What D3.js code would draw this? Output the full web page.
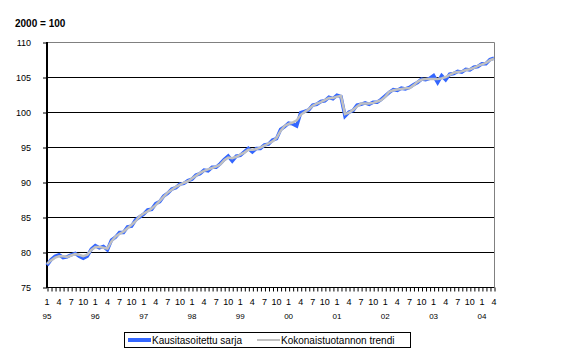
<!DOCTYPE html>
<html>
<head>
<meta charset="utf-8">
<script src="https://cdn.jsdelivr.net/npm/d3@7"></script>
<style>
  body { margin: 0; background: #fff; }
  svg { display: block; font-family: "Liberation Sans", Arial, sans-serif; }
</style>
</head>
<body>
<svg width="562" height="361"></svg>
<script>
const width = 562;
const height = 361;

// category axis: Jan 1995 .. Apr 2004, one point per month
const years = ["95", "96", "97", "98", "99", "00", "01", "02", "03", "04"];
const monthLabels = ["1", "4", "7", "10"];
const yTicks = [75, 80, 85, 90, 95, 100, 105, 110];

// seasonally adjusted series (index 2000 = 100)
const sarja = [
  78.1, 78.9, 79.4, 79.6, 79.2, 79.3, 79.6, 79.8, 79.4, 79.1, 79.4, 80.4,
  80.9, 80.6, 80.8, 80.3, 81.7, 82.1, 82.8, 82.8, 83.6, 83.7, 84.6, 85.0,
  85.4, 86.0, 86.1, 86.9, 87.2, 88.0, 88.4, 89.0, 89.2, 89.7, 89.8, 90.2,
  90.4, 91.0, 91.2, 91.7, 91.6, 92.1, 92.1, 92.6, 93.2, 93.7, 93.0, 93.7,
  93.8, 94.3, 94.8, 94.3, 94.8, 94.8, 95.3, 95.4, 96.0, 96.2, 97.5, 97.9,
  98.4, 98.3, 98.0, 99.9, 100.1, 100.3, 101.0, 101.1, 101.5, 101.6, 102.1, 101.9,
  102.4, 102.2, 99.4, 100.0, 100.2, 101.0, 101.1, 101.3, 101.1, 101.4, 101.4, 101.8,
  102.3, 102.8, 103.2, 103.1, 103.4, 103.3, 103.5, 103.9, 104.2, 104.7, 104.6, 104.8,
  105.2, 104.2, 105.2, 104.6, 105.4, 105.5, 105.8, 105.7, 106.1, 106.0, 106.4, 106.5,
  106.9, 106.9, 107.5, 107.7
];

// trend of total output
const trendi = [
  78.3, 78.8, 79.2, 79.4, 79.4, 79.3, 79.5, 79.7, 79.6, 79.4, 79.6, 80.3,
  80.7, 80.7, 80.6, 80.5, 81.5, 82.2, 82.6, 82.9, 83.4, 83.9, 84.4, 85.1,
  85.5, 85.8, 86.2, 86.7, 87.3, 87.9, 88.5, 88.9, 89.3, 89.6, 89.9, 90.1,
  90.5, 90.9, 91.3, 91.6, 91.8, 92.0, 92.2, 92.5, 93.1, 93.5, 93.4, 93.6,
  93.9, 94.2, 94.6, 94.6, 94.7, 94.9, 95.2, 95.5, 95.8, 96.3, 97.3, 98.0,
  98.3, 98.5, 98.8, 99.6, 100.0, 100.4, 100.9, 101.2, 101.4, 101.7, 102.0, 102.0,
  102.2, 102.3, 99.7, 99.9, 100.3, 100.8, 101.2, 101.2, 101.2, 101.3, 101.5, 101.7,
  102.2, 102.9, 103.1, 103.2, 103.3, 103.4, 103.4, 103.8, 104.3, 104.6, 104.7, 104.7,
  104.7, 104.7, 104.8, 105.0, 105.3, 105.6, 105.7, 105.8, 106.0, 106.1, 106.3, 106.6,
  106.8, 107.0, 107.4, 107.6
];

const svg = d3.select("svg");
const plot = { left: 47, right: 494, top: 42, bottom: 287 };

const x = d3.scaleLinear().domain([0, sarja.length - 1]).range([plot.left, plot.right]);
const y = d3.scaleLinear().domain([75, 110]).range([plot.bottom, plot.top]);

//gridlines
svg.append("g")
  .selectAll("line")
  .data(yTicks.filter(d => d > 75 && d < 110))
  .join("line")
  .attr("x1", plot.left).attr("x2", plot.right)
  .attr("y1", d => y(d) + 0.5).attr("y2", d => y(d) + 0.5)
  .attr("stroke", "#000");

// top and right border
svg.append("path")
  .attr("d", `M${plot.left},${plot.top + 0.5}H${plot.right + 0.5}V${plot.bottom}`)
  .attr("fill", "none").attr("stroke", "#808080");

// y axis
const yAxis = d3.axisLeft(y).tickValues(yTicks).tickSize(4).tickFormat(d3.format("d"));
const gy = svg.append("g").attr("transform", `translate(${plot.left},0.5)`).call(yAxis);
gy.select(".domain").remove();
gy.selectAll("text").attr("font-size", 9).attr("fill", "#000").attr("x", -16);
svg.append("line")
  .attr("x1", plot.left).attr("x2", plot.left)
  .attr("y1", plot.top).attr("y2", plot.bottom + 1)
  .attr("stroke", "#000").attr("stroke-width", 2);

// x axis with a tick each month
const idx = d3.range(sarja.length);
const xAxis = d3.axisBottom(x).tickValues(idx).tickSize(4).tickFormat("");
const gx = svg.append("g").attr("transform", `translate(0.5,${plot.bottom + 0.5})`).call(xAxis);
gx.select(".domain").attr("d", `M${plot.left - 0.5},0H${plot.right}`);

svg.append("g")
  .selectAll("text")
  .data(idx.filter(i => i % 3 === 0))
  .join("text")
  .attr("x", i => x(i))
  .attr("y", 305)
  .attr("text-anchor", "middle")
  .attr("font-size", 9)
  .text(i => monthLabels[(i % 12) / 3]);

svg.append("g")
  .selectAll("text")
  .data(years)
  .join("text")
  .attr("x", (d, i) => x(i * 12))
  .attr("y", 319)
  .attr("text-anchor", "middle")
  .attr("font-size", 8)
  .text(d => d);

// series
const line = d3.line().x((d, i) => x(i)).y(d => y(d));
svg.append("path").datum(sarja)
  .attr("d", line).attr("fill", "none")
  .attr("stroke", "#3366ff").attr("stroke-width", 3.5);
svg.append("path").datum(trendi)
  .attr("d", line).attr("fill", "none")
  .attr("stroke", "#c0c0c0").attr("stroke-width", 2.5);

// title
svg.append("text")
  .attr("x", 15).attr("y", 27)
  .attr("font-size", 10).attr("font-weight", "bold")
  .text("2000 = 100");

// legend
const lg = svg.append("g");
lg.append("rect")
  .attr("x", 124.5).attr("y", 332.5).attr("width", 286).attr("height", 15)
  .attr("fill", "#fff").attr("stroke", "#000");
const items = [
  { label: "Kausitasoitettu sarja", color: "#3366ff", w: 4, x0: 128 },
  { label: "Kokonaistuotannon trendi", color: "#c0c0c0", w: 2, x0: 257 }
];
items.forEach(it => {
  lg.append("line")
    .attr("x1", it.x0).attr("x2", it.x0 + 23)
    .attr("y1", 340).attr("y2", 340)
    .attr("stroke", it.color).attr("stroke-width", it.w);
  lg.append("text")
    .attr("x", it.x0 + 24).attr("y", 344)
    .attr("font-size", 10)
    .text(it.label);
});
</script>
</body>
</html>
